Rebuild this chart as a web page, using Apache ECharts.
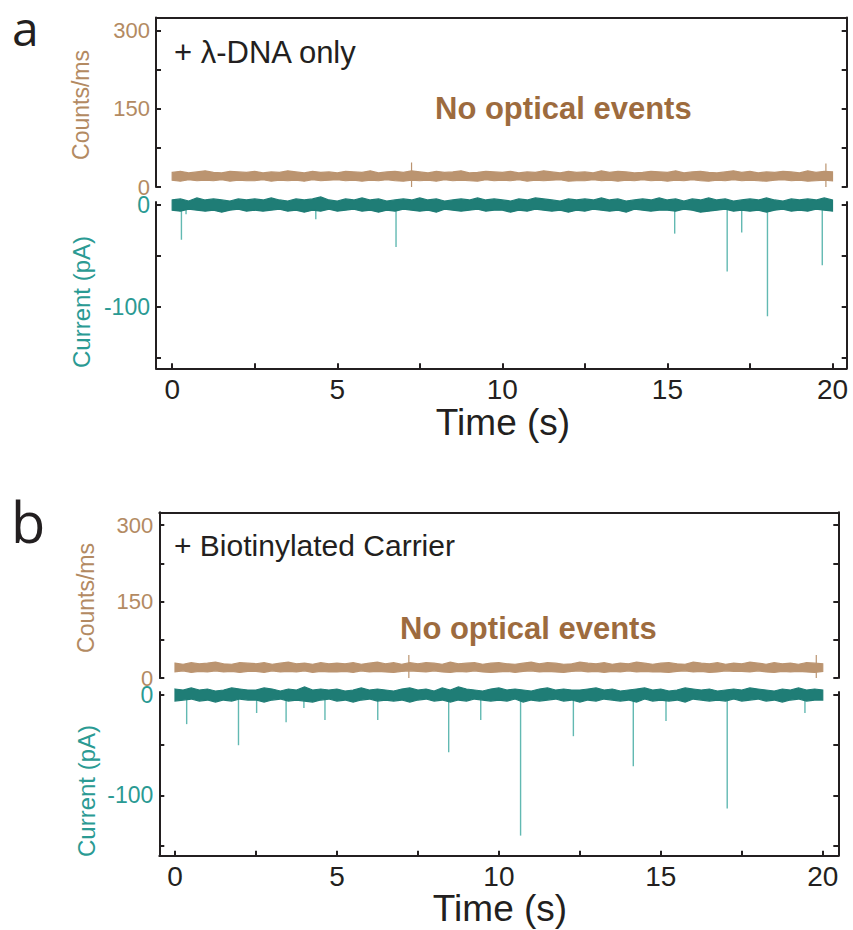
<!DOCTYPE html>
<html><head><meta charset="utf-8">
<script src="https://cdn.jsdelivr.net/npm/echarts@6/dist/echarts.min.js"></script>
<style>html,body{margin:0;padding:0;background:#fff}#c{width:853px;height:930px}</style>
</head><body><div id="c"></div>
<script>
// ---- data ----
const sampleStep = 0.25; // s between envelope samples, t = 0 .. 20
const countsHiA = [28,30,27,29,31,28,27,30,29,28, 30,27,29,28,31,29,27,30,28,29, 27,30,29,28,31,27,29,30,28,31, 29,27,30,28,29,31,27,28,30,29, 28,30,27,29,28,31,29,27,30,28, 29,27,31,28,30,29,27,28,30,29, 28,31,27,29,30,28,27,29,31,28, 30,27,29,28,30,29,27,31,28,30, 29];
const countsLoA = [13,11,14,12,13,12,14,11,13,12, 12,14,11,13,12,13,11,14,12,13, 14,12,13,11,13,12,14,12,11,13, 12,13,11,14,12,13,12,11,14,12, 13,12,14,11,13,12,13,14,11,12, 12,14,12,13,11,13,12,14,12,13, 11,13,12,14,12,11,13,12,14,12, 13,12,11,13,14,12,13,11,12,13, 12];
const countsPeakTimesA = [7.25, 19.8];
const countsPeakValuesA = [47, 45];
const currentHiA = [5,6,4,7,5,6,5,4,6,5, 6,5,7,5,4,6,5,6,8,5, 4,6,5,7,5,6,4,5,6,5, 7,5,6,4,5,6,5,7,5,6, 5,4,6,5,7,6,5,4,6,5, 6,5,7,5,6,4,5,6,5,7, 5,6,4,6,5,7,5,6,4,5, 6,5,7,5,4,6,5,6,5,7, 5];
const currentLoA = [-5,-6,-4,-5,-6,-5,-7,-5,-4,-6, -5,-6,-5,-4,-6,-5,-7,-5,-6,-4, -6,-5,-4,-6,-5,-7,-5,-6,-4,-5, -6,-5,-7,-4,-5,-6,-5,-4,-6,-5, -5,-7,-5,-6,-4,-5,-6,-5,-7,-5, -6,-4,-5,-6,-5,-7,-4,-5,-6,-5, -5,-6,-4,-5,-7,-6,-5,-4,-6,-5, -6,-5,-7,-5,-4,-6,-5,-6,-4,-5, -6];
const spikeTimesA = [0.28, 0.42, 4.35, 6.78, 15.22, 16.81, 17.25, 18.03, 19.69];
const spikeDepthsA = [-34, -9, -14, -41, -28, -65, -27, -109, -59];

const countsHiB = [29,27,30,28,29,31,28,27,30,29, 28,30,27,29,31,28,29,27,30,28, 29,28,30,27,29,31,28,30,27,30, 28,30,29,27,31,28,29,30,27,29, 30,28,27,29,31,28,30,29,27,28, 31,29,28,30,27,29,28,31,29,27, 29,30,28,27,31,29,28,30,27,29, 28,31,29,27,30,28,29,27,30,29, 28];
const countsLoB = [12,14,11,13,12,14,12,13,11,13, 13,11,14,12,13,12,14,11,13,12, 12,13,11,14,12,13,12,11,13,14, 13,12,14,12,11,13,12,14,12,11, 12,13,11,13,14,12,13,12,11,13, 14,12,13,11,13,12,14,12,13,12, 12,11,13,14,12,13,11,12,14,13, 13,12,14,12,11,13,12,13,12,11, 13];
const countsPeakTimesB = [7.22, 19.8];
const countsPeakValuesB = [45, 45];
const currentHiB = [6,5,7,5,6,4,5,7,6,5, 5,7,6,4,6,5,8,5,6,5, 6,4,5,7,5,6,5,4,6,7, 5,6,4,7,5,8,6,5,4,6, 7,5,6,5,4,6,7,5,6,5, 5,6,7,5,6,4,5,6,7,5, 6,4,5,7,6,5,6,4,5,6, 5,7,6,5,4,6,5,7,5,6, 5];
const currentLoB = [-6,-5,-4,-6,-5,-7,-5,-6,-4,-5, -5,-7,-5,-4,-6,-5,-6,-7,-5,-4, -6,-5,-7,-5,-4,-6,-5,-6,-5,-7, -5,-4,-6,-5,-7,-5,-6,-4,-5,-6, -5,-6,-4,-7,-5,-6,-5,-4,-6,-5, -7,-5,-6,-4,-5,-6,-5,-7,-4,-6, -5,-6,-5,-7,-4,-5,-6,-5,-6,-4, -6,-5,-4,-6,-5,-7,-5,-4,-6,-5, -5];
const spikeTimesB = [0.36, 1.96, 2.52, 3.43, 3.98, 4.63, 6.26, 8.45, 9.44, 10.67, 12.30, 14.15, 15.16, 17.05, 19.45];
const spikeDepthsB = [-29, -50, -18, -27, -13, -25, -25, -57, -25, -140, -41, -71, -26, -113, -18];

const xTickValues = [0, 2.5, 5, 7.5, 10, 12.5, 15, 17.5, 20];
const xTickLabels = [0, 5, 10, 15, 20];
const countsTickValues = [0, 75, 150, 225, 300];
const countsTickLabels = [0, 150, 300];
const currentTickValues = [0, -50, -100, -150];
const currentTickLabels = [0, -100];

// ---- styling ----
const FONT = "'Liberation Sans', Arial, sans-serif";
const AX = '#231F20';
const BROWN_TXT = '#B38A62';
const BROWN_BAND = '#BB9470';
const BROWN_NOTE = '#9D6B3E';
const TEAL_TXT = '#2A9A93';
const TEAL_BAND = '#1F7D76';
const TEAL_SPIKE = '#62B9B2';

const xRangeA = [-0.49, 20.43];
const xRangeB = [-0.485, 20.48];
const countsRange = [0, 325];
const currentRange = [-160, 3];

// band: polygon through upper envelope then back along lower envelope, positioned by the axes
function band(lo, hi, xi, yi, color) {
  const rows = hi.map((v, i) => [i * sampleStep, v, lo[i]]);
  return {
    type: 'custom', xAxisIndex: xi, yAxisIndex: yi, silent: true, z: 3, clip: false,
    data: rows, encode: { x: 0, y: [1, 2] },
    renderItem: function (params, api) {
      if (params.dataIndex !== 0) return null;
      const top = rows.map(r => api.coord([r[0], r[1]]));
      const bot = rows.map(r => api.coord([r[0], r[2]])).reverse();
      return { type: 'polygon', shape: { points: top.concat(bot) },
        style: { fill: color, stroke: color, lineWidth: 1.2, lineJoin: 'miter' } };
    }
  };
}
function spikes(t, d, xi, yi, color, w) {
  return { type: 'bar', xAxisIndex: xi, yAxisIndex: yi, barWidth: w,
    data: t.map((v, i) => [v, d[i]]), itemStyle: { color }, z: 2, silent: true };
}

function topX(grid, range) {
  return { type: 'value', gridIndex: grid, position: 'top', min: range[0], max: range[1],
    axisLine: { show: true, onZero: false, lineStyle: { color: AX, width: 2 } },
    axisTick: { show: false }, axisLabel: { show: false }, splitLine: { show: false } };
}
function bottomX(grid, range) {
  return { type: 'value', gridIndex: grid, position: 'bottom', min: range[0], max: range[1],
    axisLine: { show: true, onZero: false, lineStyle: { color: AX, width: 2 } },
    axisTick: { show: true, inside: true, length: 5, customValues: xTickValues, lineStyle: { color: AX, width: 2 } },
    axisLabel: { show: true, customValues: xTickLabels, fontSize: 28, color: AX, fontFamily: FONT, margin: 7 },
    splitLine: { show: false } };
}
function yAx(grid, pos, range, ticks, labels, color, fs) {
  return { type: 'value', gridIndex: grid, position: pos, min: range[0], max: range[1],
    axisLine: { show: true, onZero: false, lineStyle: { color: AX, width: 2 } },
    axisTick: { show: true, inside: true, length: 5, customValues: ticks, lineStyle: { color: AX, width: 2 } },
    axisLabel: labels ? { show: true, customValues: labels, fontSize: fs, lineHeight: 16, color, fontFamily: FONT, margin: 6 } : { show: false },
    splitLine: { show: false } };
}

function txt(x, y, text, opts) {
  return Object.assign({ type: 'text', x, y, style: Object.assign({ text, fontFamily: FONT, fill: AX,
    verticalAlign: 'middle', align: 'left' }, opts.style || {}) }, opts.rot !== undefined ? { rotation: opts.rot } : {});
}

const chart = echarts.init(document.getElementById('c'), null, { renderer: 'svg', width: 853, height: 930 });
chart.setOption({
  animation: false,
  backgroundColor: '#fff',
  grid: [
    { left: 156, top: 17.5, width: 690.7, height: 169.5, outerBoundsMode: 'none' },
    { left: 156, top: 202, width: 690.7, height: 166.3, outerBoundsMode: 'none' },
    { left: 159.3, top: 512.3, width: 679, height: 165.7, outerBoundsMode: 'none' },
    { left: 159.3, top: 692, width: 679, height: 163.7, outerBoundsMode: 'none' }
  ],
  xAxis: [ topX(0, xRangeA), bottomX(1, xRangeA), topX(2, xRangeB), bottomX(3, xRangeB) ],
  yAxis: [
    yAx(0, 'left', countsRange, countsTickValues, countsTickLabels, BROWN_TXT, 22),
    yAx(0, 'right', countsRange, countsTickValues, null),
    yAx(1, 'left', currentRange, currentTickValues, currentTickLabels, TEAL_TXT, 23),
    yAx(1, 'right', currentRange, currentTickValues, null),
    yAx(2, 'left', countsRange, countsTickValues, countsTickLabels, BROWN_TXT, 22),
    yAx(2, 'right', countsRange, countsTickValues, null),
    yAx(3, 'left', currentRange, currentTickValues, currentTickLabels, TEAL_TXT, 23),
    yAx(3, 'right', currentRange, currentTickValues, null)
  ],
  series: [
    spikes(countsPeakTimesA, countsPeakValuesA, 0, 0, BROWN_BAND, 1.2),
    band(countsLoA, countsHiA, 0, 0, BROWN_BAND),
    spikes(spikeTimesA, spikeDepthsA, 1, 2, TEAL_SPIKE, 1.4),
    band(currentLoA, currentHiA, 1, 2, TEAL_BAND),
    spikes(countsPeakTimesB, countsPeakValuesB, 2, 4, BROWN_BAND, 1.2),
    band(countsLoB, countsHiB, 2, 4, BROWN_BAND),
    spikes(spikeTimesB, spikeDepthsB, 3, 6, TEAL_SPIKE, 1.4),
    band(currentLoB, currentHiB, 3, 6, TEAL_BAND)
  ],
  graphic: [
    txt(12, 27, 'a', { style: { fontSize: 48, lineHeight: 34, fontFamily: "'Open Sans', sans-serif", fill: '#231F20' } }),
    txt(11, 521, 'b', { style: { fontSize: 56, lineHeight: 46, fontFamily: "'Open Sans', sans-serif", fill: '#231F20' } }),
    txt(174, 52, '+ λ-DNA only', { style: { fontSize: 31 } }),
    txt(174, 545, '+ Biotinylated Carrier', { style: { fontSize: 30 } }),
    txt(435, 108, 'No optical events', { style: { fontSize: 31, fontWeight: 'bold', fill: BROWN_NOTE } }),
    txt(400, 628, 'No optical events', { style: { fontSize: 31, fontWeight: 'bold', fill: BROWN_NOTE } }),
    txt(81, 105, 'Counts/ms', { rot: Math.PI / 2, style: { fontSize: 23, fill: BROWN_TXT, align: 'center' } }),
    txt(81, 302, 'Current (pA)', { rot: Math.PI / 2, style: { fontSize: 24, fill: TEAL_TXT, align: 'center' } }),
    txt(86, 598, 'Counts/ms', { rot: Math.PI / 2, style: { fontSize: 23, fill: BROWN_TXT, align: 'center' } }),
    txt(86, 791, 'Current (pA)', { rot: Math.PI / 2, style: { fontSize: 24, fill: TEAL_TXT, align: 'center' } }),
    txt(503, 422, 'Time (s)', { style: { fontSize: 37, lineHeight: 28, align: 'center' } }),
    txt(500, 908, 'Time (s)', { style: { fontSize: 37, lineHeight: 28, align: 'center' } })
  ]
});
</script></body></html>
